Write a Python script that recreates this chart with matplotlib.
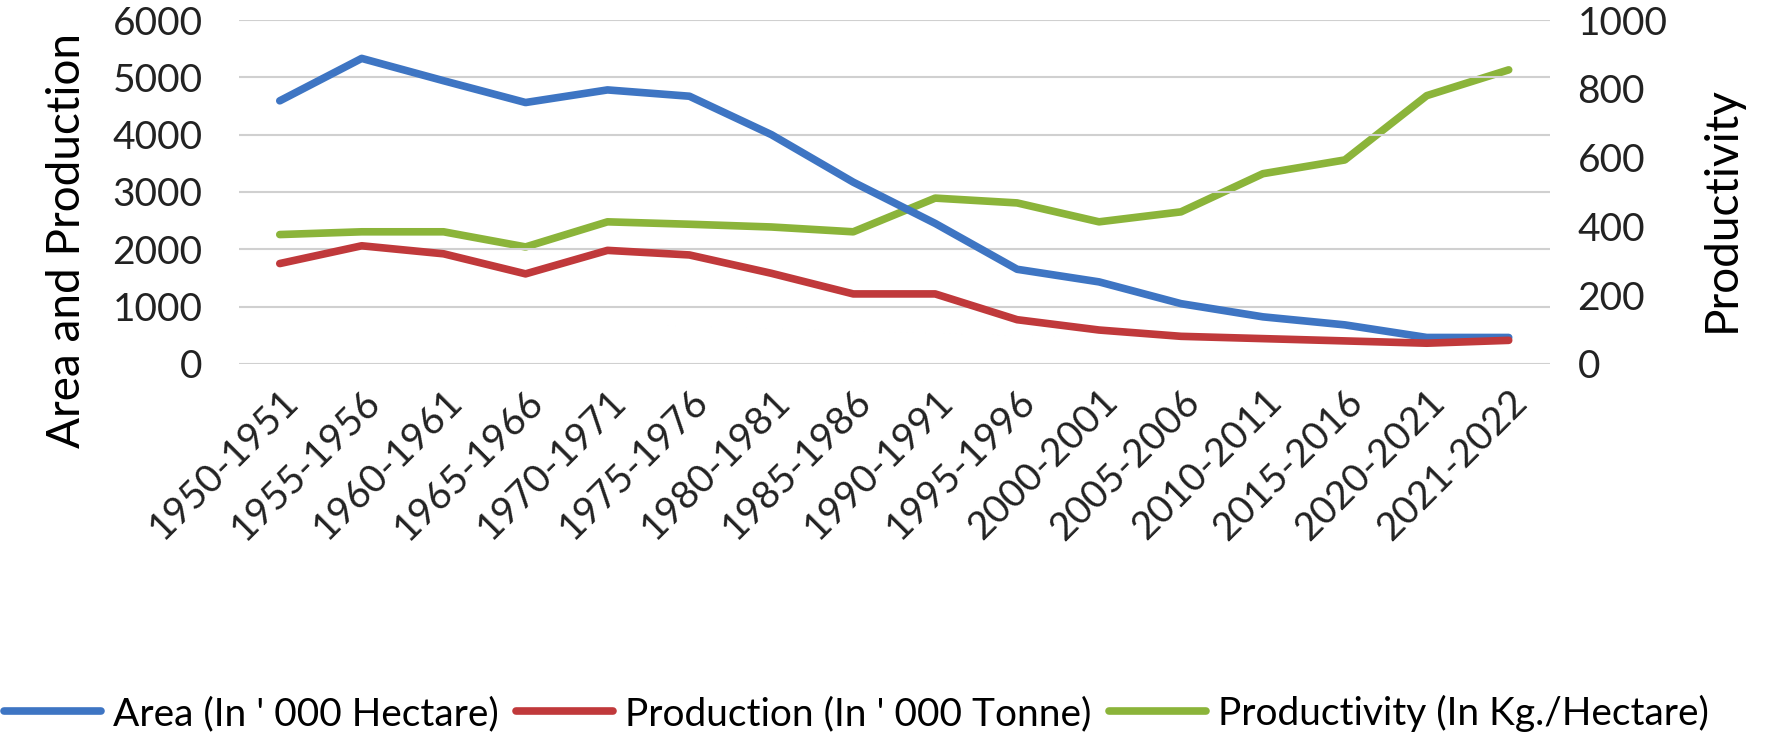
import matplotlib
matplotlib.use('Agg')
import matplotlib.pyplot as plt

# data
years = ['1950-1951', '1955-1956', '1960-1961', '1965-1966', '1970-1971',
         '1975-1976', '1980-1981', '1985-1986', '1990-1991', '1995-1996',
         '2000-2001', '2005-2006', '2010-2011', '2015-2016', '2020-2021',
         '2021-2022']
area = [4590, 5330, 4940, 4560, 4780, 4670, 4000, 3170, 2450, 1650,
        1430, 1050, 820, 680, 460, 460]
production = [1750, 2060, 1920, 1570, 1980, 1900, 1580, 1220, 1220, 770,
              590, 480, 440, 400, 360, 410]
productivity = [376, 384, 384, 340, 413, 406, 398, 384, 482, 468,
                413, 442, 553, 593, 780, 855]

plt.rcParams['font.family'] = ['Lato', 'DejaVu Sans']

fig = plt.figure(figsize=(17.69, 7.41), dpi=100)
ax = fig.add_axes([0.135, 0.509, 0.741, 0.464])
ax2 = ax.twinx()

x = list(range(len(years)))
l1, = ax.plot(x, area, color='#3E75C3', lw=5.5, solid_capstyle='round',
              label="Area (In ' 000 Hectare)")
l2, = ax.plot(x, production, color='#C0393B', lw=5.5, solid_capstyle='round',
              label="Production (In ' 000 Tonne)")
l3, = ax2.plot(x, productivity, color='#8BB43A', lw=5.5, solid_capstyle='round',
               label='Productivity (In Kg./Hectare)')

ax.set_xlim(-0.5, len(years) - 0.5)
ax.set_ylim(0, 6000)
ax.set_yticks(range(0, 6001, 1000))
ax2.set_ylim(0, 1000)
ax2.set_yticks(range(0, 1001, 200))
ax.grid(axis='y', color='#D0D0D0', lw=1.5)
ax.set_axisbelow(True)
ax2.set_zorder(ax.get_zorder() - 1)
ax.patch.set_visible(False)

for a in (ax, ax2):
    for s in a.spines.values():
        s.set_visible(False)
    a.tick_params(length=0, labelsize=28, colors='#222222')

ax.set_xticks(x)
ax.set_xticklabels(years, rotation=45, ha='right', rotation_mode='anchor')
ax.tick_params(axis='x', pad=14)
ax.tick_params(axis='y', pad=26)
ax2.tick_params(axis='y', pad=20)

ax.set_ylabel('Area and Production', fontsize=33)
ax.yaxis.set_label_coords(-0.115, 0.36)
ax2.set_ylabel('Productivity', fontsize=33)
ax2.yaxis.set_label_coords(1.115, 0.45)

fig.legend(handles=[l1, l2, l3], loc='lower center', ncol=3,
           bbox_to_anchor=(0.484, -0.035), frameon=False, fontsize=28,
           handlelength=2.5, columnspacing=0.45, handletextpad=0.3)

plt.savefig('out.png', dpi=100)
